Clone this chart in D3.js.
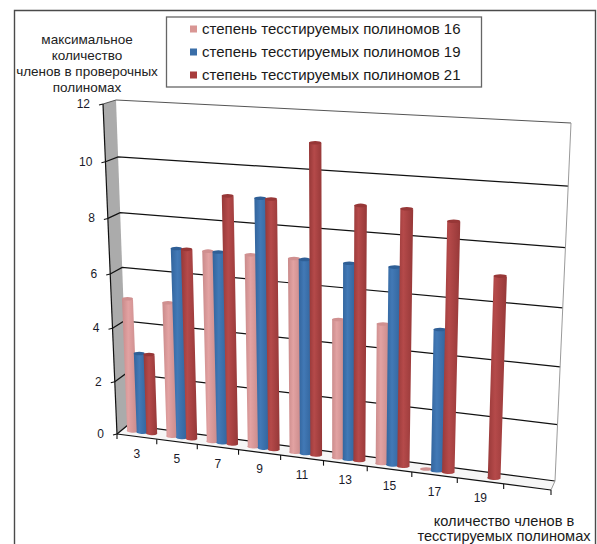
<!DOCTYPE html>
<html lang="ru">
<head>
<meta charset="utf-8">
<script src="https://cdn.jsdelivr.net/npm/d3@7/dist/d3.min.js"></script>
<style>
html,body{margin:0;padding:0;background:#fff;overflow:hidden}
svg{display:block;font-family:"Liberation Sans",Arial,sans-serif}
</style>
</head>
<body>
<script>
// Chart data
const categories = [3, 5, 7, 9, 11, 13, 15, 17, 19];
const seriesNames = ["степень тесстируемых полиномов 16", "степень тесстируемых полиномов 19", "степень тесстируемых полиномов 21"];
const degree16 = [5, 5, 7, 7, 7, 5, 5, 0, null];
const degree19 = [3, 7, 7, 9, 7, 7, 7, 5, null];
const degree21 = [3, 7, 9, 9, 11, 9, 9, 8.7, 7];
const valueTicks = [0, 2, 4, 6, 8, 10, 12];
const yTitleLines = ["максимальное", "количество", "членов в проверочных", "полиномах"];
const xTitleLines = ["количество членов в", "тесстируемых полиномах"];

const allSeries = [degree16, degree19, degree21];
const barColors = [
  {edge: "#c98a8a", mid: "#e2a2a2", cap: "#d09090"},
  {edge: "#32649c", mid: "#4279b6", cap: "#2f5f96"},
  {edge: "#963838", mid: "#b54a4a", cap: "#973737"}
];

const width = 597, height = 544;
const svg = d3.select("body").append("svg").attr("width", width).attr("height", height);

// Scales on the unit cube of the 3D plot; the axis keeps one empty slot after the last category
const slotCount = categories.length + 1;
const catScale = d3.scaleBand().domain(categories).range([0, categories.length / slotCount]);
const valScale = d3.scaleLinear().domain([0, 12]).range([0, 1]);

// Projective map from the unit square onto a quadrilateral
function quadMap(p00, p10, p11, p01) {
  const sx = p00[0] - p10[0] + p11[0] - p01[0], sy = p00[1] - p10[1] + p11[1] - p01[1];
  const dx1 = p10[0] - p11[0], dx2 = p01[0] - p11[0], dy1 = p10[1] - p11[1], dy2 = p01[1] - p11[1];
  const det = dx1 * dy2 - dx2 * dy1;
  const g = (sx * dy2 - dx2 * sy) / det, h = (dx1 * sy - sx * dy1) / det;
  const a = p10[0] - p00[0] + g * p10[0], b = p01[0] - p00[0] + h * p01[0], c = p00[0];
  const d = p10[1] - p00[1] + g * p10[1], e = p01[1] - p00[1] + h * p01[1], f = p00[1];
  return (u, v) => {
    const w = g * u + h * v + 1;
    return [(a * u + b * v + c) / w, (d * u + e * v + f) / w];
  };
}

// Front and back planes of the plot box: bottom-left, bottom-right, top-right, top-left
const frontPlane = quadMap([117, 434], [551, 490], [565, 128], [103, 104]);
const backPlane = quadMap([128, 425], [555, 481], [571, 123], [116, 100]);
const project = (u, v, depth) => {
  const f = frontPlane(u, v), b = backPlane(u, v);
  return [f[0] + (b[0] - f[0]) * depth, f[1] + (b[1] - f[1]) * depth];
};
const line = d3.line();

// Outer frame, open at the bottom edge
svg.append("path").attr("d", "M14.5,544V10.5H595.5V544").attr("fill", "none")
  .attr("stroke", "#4a4a4a").attr("stroke-width", 1.4);

// Gradients that give the bars their cylindrical shading
const defs = svg.append("defs");
barColors.forEach((c, i) => {
  const g = defs.append("linearGradient").attr("id", "bar" + i);
  g.append("stop").attr("offset", "0%").attr("stop-color", c.edge);
  g.append("stop").attr("offset", "40%").attr("stop-color", c.mid);
  g.append("stop").attr("offset", "100%").attr("stop-color", c.edge);
});

// Walls and floor
svg.append("path").attr("fill", "#ababab")
  .attr("d", line([project(0, 0, 0), project(0, 1, 0), project(0, 1, 1), project(0, 0, 1)]) + "Z");
svg.append("path").attr("fill", "#f6f6f6")
  .attr("d", line([project(0, 0, 0), project(1, 0, 0), project(1, 0, 1), project(0, 0, 1)]) + "Z");

// Gridlines across the back wall and side wall
valueTicks.forEach(t => {
  const v = valScale(t);
  svg.append("path").attr("fill", "none").attr("stroke", t === 12 ? "#555" : "#111")
    .attr("stroke-width", t === 12 ? 1 : 1.2)
    .attr("d", line([project(0, v, 0), project(0, v, 1), project(1, v, 1)]));
});
// Right edge of the back wall
svg.append("path").attr("fill", "none").attr("stroke", "#9a9a9a").attr("stroke-width", 1)
  .attr("d", line([project(1, 1, 1), project(1, 0, 1), project(1, 0, 0)]));

// Vertical axis with ticks and labels
svg.append("path").attr("fill", "none").attr("stroke", "#111").attr("stroke-width", 1.2)
  .attr("d", line([project(0, 0, 0), project(0, 1, 0)]));
valueTicks.forEach(t => {
  const p = project(0, valScale(t), 0);
  svg.append("line").attr("x1", p[0] - 4).attr("x2", p[0]).attr("y1", p[1] + 1).attr("y2", p[1])
    .attr("stroke", "#111").attr("stroke-width", 1.1);
  svg.append("text").attr("x", p[0] - 13).attr("y", p[1] + 4).attr("text-anchor", "end")
    .attr("font-size", 12).attr("fill", "#1a1a2a").text(t);
});

// Horizontal axis with ticks and labels
svg.append("path").attr("fill", "none").attr("stroke", "#111").attr("stroke-width", 1.2)
  .attr("d", line([project(0, 0, 0), project(1, 0, 0)]));
d3.range(slotCount + 1).forEach(i => {
  const p = project(i / slotCount, 0, 0);
  svg.append("line").attr("x1", p[0]).attr("x2", p[0]).attr("y1", p[1]).attr("y2", p[1] + 5)
    .attr("stroke", "#111").attr("stroke-width", 1.1);
});
categories.forEach(c => {
  const p = project(catScale(c) + catScale.bandwidth() / 2, 0, 0);
  svg.append("text").attr("x", p[0]).attr("y", p[1] + 21).attr("text-anchor", "middle")
    .attr("font-size", 12).attr("fill", "#1a1a2a").text(c);
});

// Cylindrical bars, drawn left to right so later ones overlap earlier ones
const slot = catScale.bandwidth() * 0.245;
const barDepth = 0.5;
categories.forEach((c, ci) => {
  allSeries.forEach((values, si) => {
    const value = values[ci];
    if (value == null) return;
    const u = catScale(c) + catScale.bandwidth() * 0.5 + (si - 1) * slot;
    const v = valScale(value);
    const half = slot * 0.56;
    const tl = project(u - half, v, barDepth), tr = project(u + half, v, barDepth);
    const bl = project(u - half, 0, barDepth), br = project(u + half, 0, barDepth);
    const rx = (br[0] - bl[0]) / 2, ry = 1.8;
    if (value > 0) {
      svg.append("path").attr("fill", `url(#bar${si})`)
        .attr("d", `M${tl[0]},${tl[1]}L${bl[0]},${bl[1]}A${rx},${ry} 0 0 0 ${br[0]},${br[1]}L${tr[0]},${tr[1]}Z`);
    }
    svg.append("ellipse").attr("cx", (tl[0] + tr[0]) / 2).attr("cy", (tl[1] + tr[1]) / 2)
      .attr("rx", (tr[0] - tl[0]) / 2).attr("ry", ry)
      .attr("fill", barColors[si].cap);
  });
});

// Legend
svg.append("rect").attr("x", 166.5).attr("y", 17).attr("width", 315).attr("height", 70)
  .attr("fill", "#fff").attr("stroke", "#666").attr("stroke-width", 1.3);
const legendColors = ["#d99694", "#3a6ea8", "#a83c3c"];
seriesNames.forEach((name, i) => {
  const y = 29 + i * 23;
  svg.append("rect").attr("x", 190).attr("y", y - 3.5).attr("width", 7).attr("height", 7).attr("fill", legendColors[i]);
  svg.append("text").attr("x", 202).attr("y", y + 5).attr("font-size", 15).attr("fill", "#1a1a1a").text(name);
});

// Axis titles
yTitleLines.forEach((t, i) => {
  svg.append("text").attr("x", 87).attr("y", 44 + i * 16).attr("text-anchor", "middle")
    .attr("font-size", 13.5).attr("fill", "#222").text(t);
});
xTitleLines.forEach((t, i) => {
  svg.append("text").attr("x", 504).attr("y", 526 + i * 15).attr("text-anchor", "middle")
    .attr("font-size", 14.6).attr("fill", "#1a1a1a").text(t);
});
</script>
</body>
</html>
